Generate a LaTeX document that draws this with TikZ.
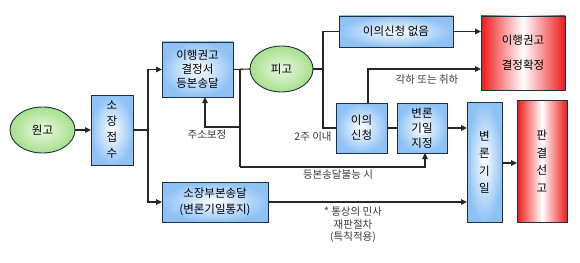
\documentclass[tikz,border=0pt]{standalone}
\usepackage{fontspec}
\setmainfont{Noto Sans CJK KR}
\usetikzlibrary{arrows.meta,shapes.geometric}
\definecolor{bluebox}{HTML}{8EC2F5}
\definecolor{greenel}{HTML}{A6E08A}
\definecolor{redbox}{HTML}{F01818}
\definecolor{edge}{HTML}{1E2E44}
\definecolor{lbl}{HTML}{3A3A3A}
\begin{document}
\begin{tikzpicture}[x=1pt,y=-1pt,
  every node/.style={inner sep=0pt,outer sep=0pt,font=\fontsize{11.5pt}{14pt}\selectfont,text=black},
  bbox/.style={draw=edge,line width=0.9pt,rectangle,inner color=white,outer color=bluebox,align=center},
  rbox/.style={draw=edge,line width=0.9pt,rectangle,left color=redbox,right color=redbox,middle color=white,align=center},
  gell/.style={draw=edge,line width=0.9pt,ellipse,inner color=greenel!25,outer color=greenel},
  lab/.style={font=\fontsize{10.5pt}{12.5pt}\selectfont,text=lbl,align=center},
  conn/.style={line width=1.1pt,draw=black!85},
  arr/.style={conn,-{Triangle[length=6pt,width=5.5pt]}}]
\useasboundingbox[fill=white] (0,0) rectangle (580,262);
% nodes
\node[gell,minimum width=65pt,minimum height=46pt] (wongo) at (42.5,130) {원고};
\node[bbox,minimum width=42pt,minimum height=70pt,font=\fontsize{11.5pt}{16pt}\selectfont] (sojang) at (112,130) {소\\장\\접\\수};
\node[bbox,minimum width=71pt,minimum height=55pt] (ihaeng) at (197.5,69.5) {이행권고\\결정서\\등본송달};
\node[gell,minimum width=63pt,minimum height=46pt] (pigo) at (281.5,69) {피고};
\node[bbox,minimum width=106pt,minimum height=40pt,font=\fontsize{11.5pt}{16pt}\selectfont] (sobu) at (215,202) {소장부본송달\\(변론기일통지)};
\node[bbox,minimum width=114pt,minimum height=31pt] (eouinone) at (396,31.5) {이의신청 없음};
\node[rbox,minimum width=84pt,minimum height=74pt,font=\fontsize{11.5pt}{25pt}\selectfont] (redtop) at (523,53) {이행권고\\결정확정};
\node[bbox,minimum width=51pt,minimum height=50pt,font=\fontsize{11.5pt}{15pt}\selectfont] (eoui) at (361.5,128) {이의\\신청};
\node[bbox,minimum width=50pt,minimum height=50pt,font=\fontsize{11.5pt}{15pt}\selectfont] (bjeong) at (422,128) {변론\\기일\\지정};
\node[bbox,minimum width=35pt,minimum height=120pt,font=\fontsize{11.5pt}{17.5pt}\selectfont] (byeon) at (484.5,162) {변\\론\\기\\일};
\node[rbox,minimum width=50pt,minimum height=122pt,font=\fontsize{11.5pt}{17.5pt}\selectfont] (pan) at (542,161) {판\\결\\선\\고};
% labels
\node[lab] (l1) at (207,135) {주소보정};
\node[lab] (l2) at (313,137) {2주 이내};
\node[lab] (l3) at (427,80) {각하 또는 취하};
\node[lab] (l4) at (338,175) {등본송달불능 시};
\node[lab] (l5) at (353,225) {* 통상의 민사\\재판절차\\(특칙적용)};
% junctions
\coordinate (j1) at (148,130);
\coordinate (j2) at (240,69.5);
\coordinate (j2b) at (240,127);
\coordinate (j2c) at (240,167);
\coordinate (jt) at (323,31.5);
\coordinate (jb) at (323,128);
% connectors
\draw[arr] (wongo.east) -- (sojang.west);
\draw[conn] (sojang.east) -- (j1);
\draw[arr] (j1) |- (ihaeng.west);
\draw[arr] (j1) |- (sobu.west);
\draw[conn] (ihaeng.east) -- (pigo.west);
\draw[conn] (j2) -- (j2c);
\draw[arr] (j2b) -| ([xshift=7.5pt]ihaeng.south);
\draw[arr] (j2c) -| ([xshift=3pt]bjeong.south);
\draw[conn] (pigo.east) -- (pigo.east -| jt);
\draw[conn] (eouinone.west) -- (jt) -- (jb) -- (eoui.west);
\draw[arr] (eouinone.east) -- (eouinone.east -| redtop.west);
\draw[arr] ([xshift=6.5pt]eoui.north) |- ([yshift=-16pt]redtop.west);
\draw[conn] (eoui.east) -- (bjeong.west);
\draw[arr] (bjeong.east) -- (bjeong.east -| byeon.west);
\draw[arr] (sobu.east) -- (sobu.east -| byeon.west);
\draw[arr] ([yshift=-1pt]byeon.east) -- ([yshift=-1pt]byeon.east -| pan.west);
\end{tikzpicture}
\end{document}
